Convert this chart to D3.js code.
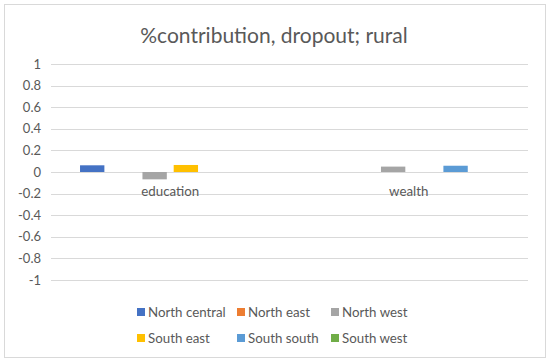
<!DOCTYPE html>
<html>
<head>
<meta charset="utf-8">
<script src="https://cdn.jsdelivr.net/npm/d3@7"></script>
<style>
  body { margin: 0; background: #fff; }
  text { font-family: Lato, "Open Sans", sans-serif; fill: #595959; }
</style>
</head>
<body>
<div id="chart"></div>
<script>
const width = 550;
const height = 363;

const categories = ["education", "wealth"];
const seriesNames = ["North central", "North east", "North west", "South east", "South south", "South west"];
const seriesColors = ["#4472C4", "#ED7D31", "#A5A5A5", "#FFC000", "#5B9BD5", "#70AD47"];
// values per series: [education, wealth]
const northCentral = [0.062, 0];
const northEast = [0, 0];
const northWest = [-0.068, 0.05];
const southEast = [0.065, 0];
const southSouth = [0, 0.058];
const southWest = [0, 0];
const yTicks = [1, 0.8, 0.6, 0.4, 0.2, 0, -0.2, -0.4, -0.6, -0.8, -1];

const seriesValues = [northCentral, northEast, northWest, southEast, southSouth, southWest];

const svg = d3.select("#chart")
    .append("svg")
    .attr("width", width)
    .attr("height", height);

// chart border
svg.append("rect")
    .attr("x", 4.5).attr("y", 4.5)
    .attr("width", 541).attr("height", 353)
    .attr("fill", "#fff")
    .attr("stroke", "#d9d9d9");

svg.append("text")
    .attr("x", 274)
    .attr("y", 43)
    .attr("text-anchor", "middle")
    .style("font-size", "21px")
    .text("%contribution, dropout; rural");

const x0 = d3.scaleBand()
    .domain(categories)
    .range([51, 528]);

const x1 = d3.scaleBand()
    .domain(seriesNames)
    .range([0, x0.bandwidth()])
    .paddingInner(0.22)
    .paddingOuter(0.93);

const y = d3.scaleLinear()
    .domain([-1, 1])
    .range([280, 64]);

// gridlines
svg.append("g")
    .selectAll("line")
    .data(yTicks)
    .enter().append("line")
    .attr("x1", 51)
    .attr("x2", 528)
    .attr("y1", d => Math.round(y(d)) + 0.5)
    .attr("y2", d => Math.round(y(d)) + 0.5)
    .attr("stroke", "#d9d9d9");

// y labels
svg.append("g")
    .selectAll("text")
    .data(yTicks)
    .enter().append("text")
    .attr("x", 41)
    .attr("y", d => y(d) + 4.5)
    .attr("text-anchor", "end")
    .style("font-size", "13px")
    .text(d => d);

// bars
seriesNames.forEach((name, i) => {
    svg.append("g")
        .selectAll("rect")
        .data(categories.map((c, j) => ({ cat: c, value: seriesValues[i][j] })))
        .enter().append("rect")
        .attr("x", d => x0(d.cat) + x1(name))
        .attr("width", x1.bandwidth())
        .attr("y", d => y(Math.max(0, d.value)))
        .attr("height", d => Math.abs(y(d.value) - y(0)))
        .attr("fill", seriesColors[i]);
});

// category labels
svg.append("g")
    .selectAll("text")
    .data(categories)
    .enter().append("text")
    .attr("x", d => x0(d) + x0.bandwidth() / 2)
    .attr("y", 196)
    .attr("text-anchor", "middle")
    .style("font-size", "13.3px")
    .text(d => d);

// legend
const legendX = [137, 237, 331];
const legendY = [312, 338];
seriesNames.forEach((name, i) => {
    const lx = legendX[i % 3];
    const ly = legendY[Math.floor(i / 3)];
    svg.append("rect")
        .attr("x", lx)
        .attr("y", ly - 4)
        .attr("width", 8)
        .attr("height", 8)
        .attr("fill", seriesColors[i]);
    svg.append("text")
        .attr("x", lx + 11)
        .attr("y", ly + 5)
        .style("font-size", "13.3px")
        .text(name);
});
</script>
</body>
</html>
